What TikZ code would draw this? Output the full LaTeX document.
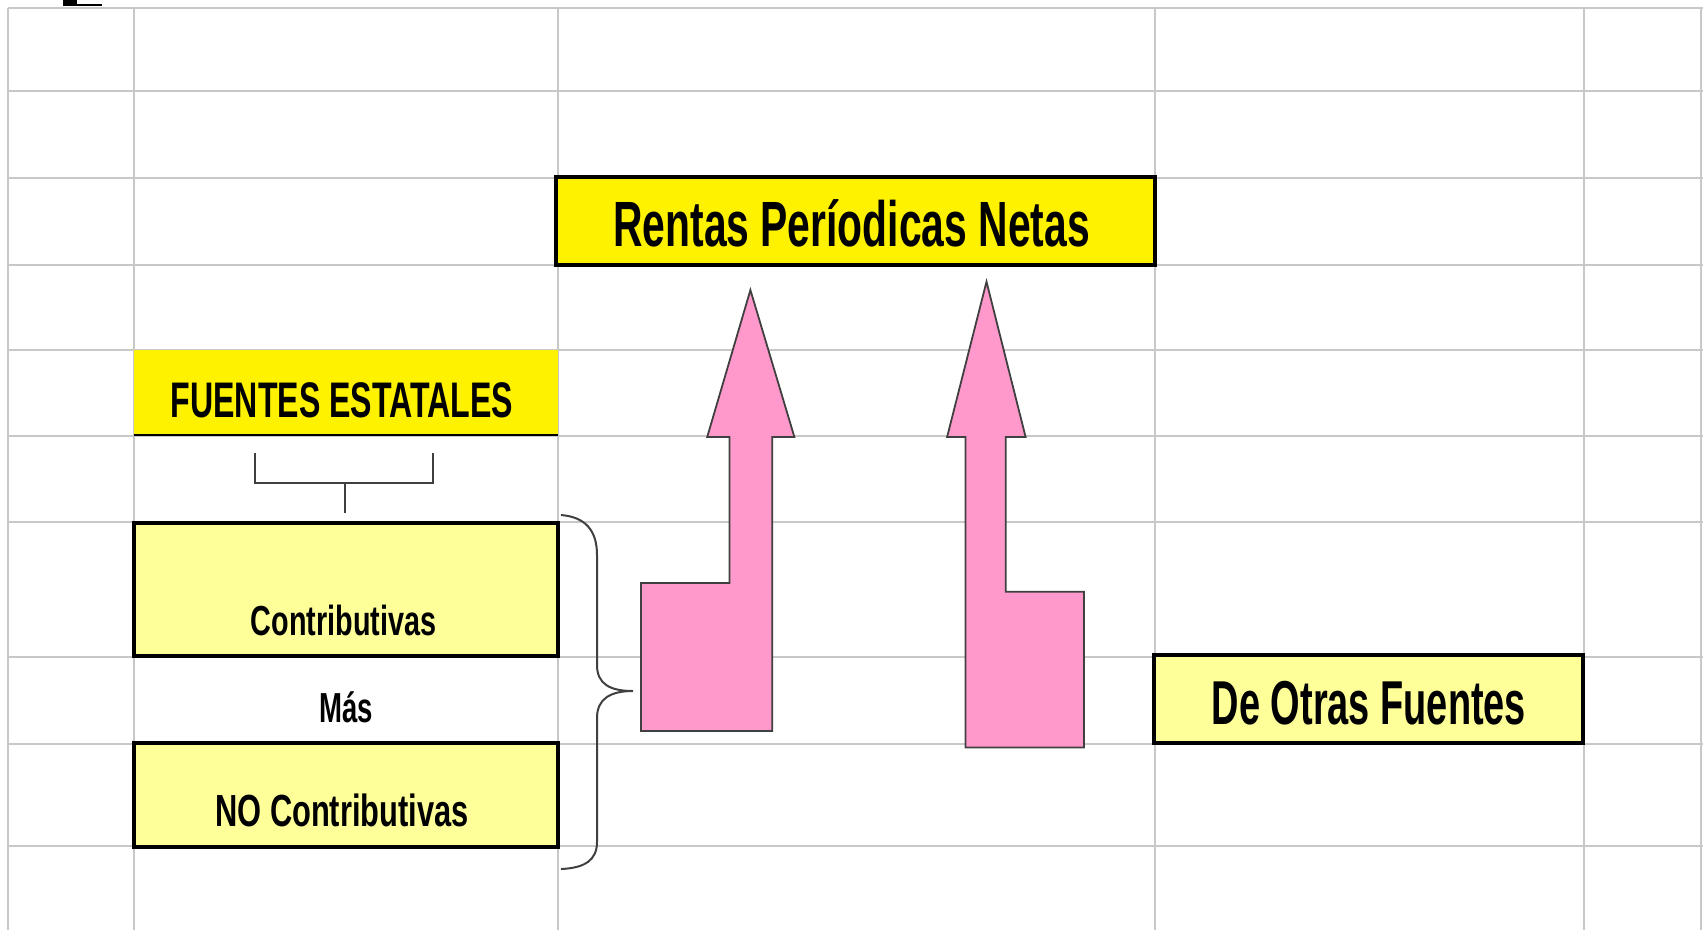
\documentclass[tikz,border=0pt]{standalone}
\usepackage{fontspec}
\setmainfont{Liberation Sans}
\usetikzlibrary{positioning}

\definecolor{gridGray}{RGB}{200,200,200}
\definecolor{brightYellow}{RGB}{255,242,0}
\definecolor{paleYellow}{RGB}{255,255,153}
\definecolor{rosePink}{RGB}{255,153,204}
\definecolor{edgeGray}{RGB}{64,64,64}

\newcommand{\narrowtext}[2]{\scalebox{#1}[1]{#2}}

\begin{document}
\begin{tikzpicture}
[x=1pt,y=-1pt,
 gridLine/.style={draw=gridGray,line width=2pt},
 boxDecorate/.style={draw=black,line width=4pt,fill=paleYellow,inner sep=0pt},
 textDecorate/.style={anchor=base,inner sep=0pt,font=\bfseries\fontsize{#1}{#1}\selectfont},
 bracketLine/.style={draw=edgeGray,line width=2pt},
 arrowDecorate/.style={draw=edgeGray,line width=1.8pt,fill=rosePink,line join=miter}]
\useasboundingbox (0,0) rectangle (1703,930);
%% sheet grid
\foreach \y in {7.6,91,178,265,350,435.5,522,657,744,846} {
  \draw[gridLine] (7.6,\y) -- (1703,\y);
}
\foreach \x in {7.6,133.6,558,1154.5,1583.5,1701} {
  \draw[gridLine] (\x,7.6) -- (\x,930);
}
\fill (63,0) rectangle (77,6);
\fill (77,3.5) rectangle (102,6);
%% boxes
\node (rentas) at (855.5,221) [boxDecorate,fill=brightYellow,minimum width=599pt,minimum height=88pt] {};
\node (fuentes) at (346,392.3) [fill=brightYellow,inner sep=0pt,minimum width=424pt,minimum height=85.4pt] {};
\draw[line width=1.5pt] (fuentes.south west) -- (fuentes.south east);
\node (contrib) at (346,589.4) [boxDecorate,minimum width=424pt,minimum height=132.7pt] {};
\node (noContrib) at (346,794.8) [boxDecorate,minimum width=424pt,minimum height=104.5pt] {};
\node (otras) at (1368.4,699.2) [boxDecorate,minimum width=428.7pt,minimum height=87.7pt] {};
%% texts
\node (rentasText) at (851.6,246) [textDecorate=64] {\narrowtext{0.638}{Rentas Períodicas Netas}};
\node (fuentesText) at (342,417.5) [textDecorate=50] {\narrowtext{0.642}{FUENTES ESTATALES}};
\node (contribText) at (343.7,635.4) [textDecorate=42] {\narrowtext{0.685}{Contributivas}};
\node (masText) at (346.4,722.9) [textDecorate=42] {\narrowtext{0.656}{Más}};
\node (noContribText) at (342,826.4) [textDecorate=45] {\narrowtext{0.685}{NO Contributivas}};
\node (otrasText) at (1369,724.7) [textDecorate=62] {\narrowtext{0.612}{De Otras Fuentes}};
%% bracket under FUENTES ESTATALES
\coordinate (bracketMid) at (344.6,483);
\draw[bracketLine] (255.4,453) -- (255.4,483) -- (433,483) -- (433,453);
\draw[bracketLine] (bracketMid) -- ([yshift=8pt]contrib.north -| bracketMid);
%% curly brace
\coordinate (braceTip) at (633,691);
\draw[bracketLine] (561,515) .. controls (585,517) and (597,530) .. (597,555) -- (597,665)
  .. controls (597,684) and (610,691) .. (braceTip)
  .. controls (610,691) and (597,699) .. (597,718) -- (597,842)
  .. controls (597,860) and (585,868) .. (561,869);
%% pink arrows
\draw[arrowDecorate] (750.4,290) -- (794.4,437) -- (772.2,437) -- (772.2,731) -- (641,731)
  -- (641,583) -- (729.4,583) -- (729.4,437) -- (707.2,437) -- cycle;
\draw[arrowDecorate] (986.5,281.7) -- (1025.6,437) -- (1005.7,437) -- (1005.7,591.7)
  -- (1084,591.7) -- (1084,747.4) -- (965.5,747.4) -- (965.5,437) -- (947.1,437) -- cycle;
\end{tikzpicture}
\end{document}
